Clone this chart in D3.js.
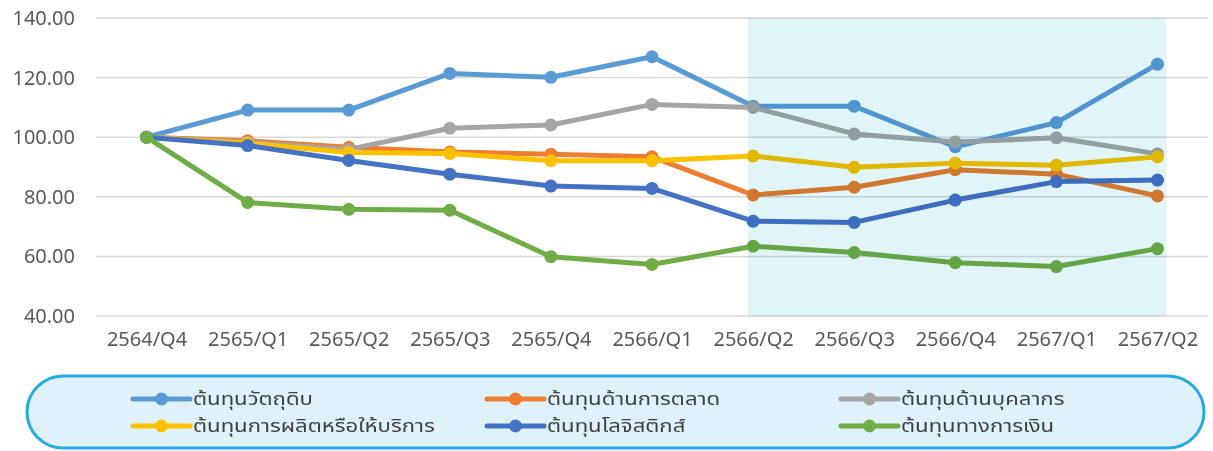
<!DOCTYPE html>
<html><head><meta charset="utf-8">
<script src="https://cdn.jsdelivr.net/npm/d3@7"></script>
<style>
html,body{margin:0;padding:0;background:#fff;}
svg{display:block;}
</style></head>
<body>
<svg id="chart" width="1213" height="451"></svg>
<script>
const categories = ["2564/Q4","2565/Q1","2565/Q2","2565/Q3","2565/Q4","2566/Q1","2566/Q2","2566/Q3","2566/Q4","2567/Q1","2567/Q2"];
const seriesNames = ["ต้นทุนวัตถุดิบ","ต้นทุนด้านการตลาด","ต้นทุนด้านบุคลากร","ต้นทุนการผลิตหรือให้บริการ","ต้นทุนโลจิสติกส์","ต้นทุนทางการเงิน"];
const rawMaterial = [100, 109.1, 109.1, 121.4, 120.1, 127.0, 110.4, 110.4, 96.8, 104.9, 124.5];
const marketing   = [100, 98.8, 96.6, 95.0, 94.3, 93.4, 80.6, 83.2, 89.1, 87.6, 80.3];
const personnel   = [100, 98.3, 95.9, 103.0, 104.1, 111.0, 110.0, 101.1, 98.4, 99.8, 94.4];
const production  = [100, 98.0, 94.9, 94.5, 92.1, 92.1, 93.7, 89.9, 91.3, 90.6, 93.4];
const logistics   = [100, 97.2, 92.2, 87.6, 83.6, 82.8, 71.8, 71.4, 78.9, 85.1, 85.6];
const finance     = [100, 78.1, 75.8, 75.5, 59.9, 57.3, 63.4, 61.3, 57.9, 56.6, 62.6];
const yTicks = [40, 60, 80, 100, 120, 140];
const highlightRange = ["2566/Q2", "2567/Q2"];
const colors = ["#5B9BD5","#ED7D31","#A5A5A5","#FFC000","#4472C4","#70AD47"];

const allSeries = [rawMaterial, marketing, personnel, production, logistics, finance].map((v,i)=>({name:seriesNames[i], values:v, color:colors[i]}));

const svg = d3.select("#chart");
const x = d3.scalePoint().domain(categories).range([96, 1208]).padding(0.5);
const y = d3.scaleLinear().domain([40, 140]).range([316, 18]);

// gridlines
svg.append("g").selectAll("line").data(yTicks).join("line")
  .attr("x1", 96).attr("x2", 1208)
  .attr("y1", d=>y(d)).attr("y2", d=>y(d))
  .attr("stroke", "#D9D9D9").attr("stroke-width", 1.5);

// y axis labels
const yAxis = svg.append("g").attr("transform","translate(84,0)")
  .call(d3.axisLeft(y).tickValues(yTicks).tickSize(0).tickPadding(9).tickFormat(d3.format(".2f")));
yAxis.select(".domain").remove();
yAxis.selectAll("text").attr("font-family","'Noto Sans', 'Open Sans', sans-serif").attr("font-size", 20).attr("fill","#595959");

// x axis labels
const xAxis = svg.append("g").attr("transform","translate(0,316)")
  .call(d3.axisBottom(x).tickSize(0).tickPadding(16));
xAxis.select(".domain").remove();
xAxis.selectAll("text").attr("font-family","'Noto Sans', 'Open Sans', sans-serif").attr("font-size", 20).attr("fill","#595959");

// lines
const line = d3.line().x((d,i)=>x(categories[i])).y(d=>y(d));
const gS = svg.append("g");
allSeries.forEach(s=>{
  const g = gS.append("g");
  g.append("path").attr("d", line(s.values)).attr("fill","none")
    .attr("stroke", s.color).attr("stroke-width", 5).attr("stroke-linejoin","round");
  g.selectAll("circle").data(s.values).join("circle")
    .attr("cx",(d,i)=>x(categories[i])).attr("cy", d=>y(d)).attr("r", 6.5)
    .attr("fill", s.color);
});

// highlight region (overlay)
svg.append("rect")
  .attr("x", x(highlightRange[0]) - 5)
  .attr("y", y(140))
  .attr("width", x(highlightRange[1]) + 9 - (x(highlightRange[0]) - 5))
  .attr("height", y(40) - y(140))
  .attr("fill", "#E1F4F8")
  .style("mix-blend-mode", "multiply");

// legend
const leg = svg.append("g");
leg.append("rect").attr("x", 27).attr("y", 376).attr("width", 1177).attr("height", 72)
  .attr("rx", 36).attr("ry", 36).attr("fill", "#DFF2F9").attr("stroke", "#27AAE1").attr("stroke-width", 3);
const colX = [133, 487, 841];
const rowY = [399, 426];
allSeries.forEach((s,i)=>{
  const cx = colX[i % 3], cy = rowY[Math.floor(i/3)];
  const g = leg.append("g").attr("transform", `translate(${cx},${cy})`);
  g.append("line").attr("x1",0).attr("x2",57).attr("y1",0).attr("y2",0)
    .attr("stroke", s.color).attr("stroke-width",5).attr("stroke-linecap","round");
  g.append("circle").attr("cx",28.5).attr("cy",0).attr("r",6.5).attr("fill",s.color);
  g.append("text").attr("transform","translate(60,0) scale(1.23,1)").attr("dy","0.35em")
    .attr("font-family","'Noto Sans Thai', 'Noto Sans', sans-serif").attr("font-size",18)
    .attr("fill","#404040").text(s.name);
});
</script>
</body></html>
